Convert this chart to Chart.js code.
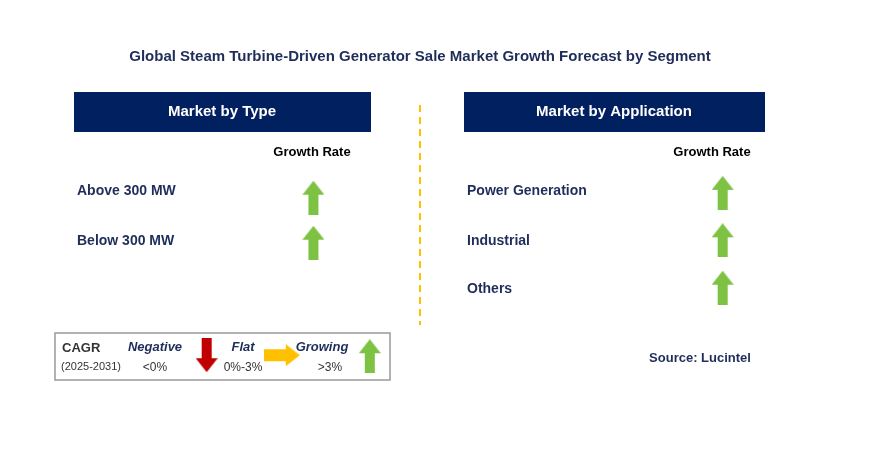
<!DOCTYPE html>
<html><head><meta charset="utf-8">
<script src="https://cdn.jsdelivr.net/npm/chart.js@4/dist/chart.umd.min.js"></script>
<style>html,body{margin:0;padding:0;background:#fff}#wrap{width:872px;height:461px}</style>
</head><body><div id="wrap"><canvas id="c" width="872" height="461"></canvas></div>
<script>
const title = "Global Steam Turbine-Driven Generator Sale Market Growth Forecast by Segment";
const typeCategories = ["Above 300 MW", "Below 300 MW"];
const typeGrowth = ["up", "up"];
const appCategories = ["Power Generation", "Industrial", "Others"];
const appGrowth = ["up", "up", "up"];
const legendItems = [["Negative", "<0%", "down"], ["Flat", "0%-3%", "right"], ["Growing", ">3%", "up"]];

const GREEN = "#7dc242", RED = "#c00000", ORANGE = "#ffc000", NAVY = "#002060", TXT = "#1f2d5a";
function arrowImg(dir, color) {
  const w = dir === "right" ? 36 : 22, h = dir === "right" ? 22 : 34;
  const c = document.createElement("canvas"); c.width = w; c.height = h;
  const g = c.getContext("2d"); g.fillStyle = color; g.beginPath();
  if (dir === "up") { g.moveTo(11,0); g.lineTo(22,14); g.lineTo(16,14); g.lineTo(16,34); g.lineTo(6,34); g.lineTo(6,14); g.lineTo(0,14); }
  else if (dir === "down") { g.moveTo(11,34); g.lineTo(22,20); g.lineTo(16,20); g.lineTo(16,0); g.lineTo(6,0); g.lineTo(6,20); g.lineTo(0,20); }
  else { g.moveTo(36,11); g.lineTo(22,0); g.lineTo(22,5); g.lineTo(0,5); g.lineTo(0,17); g.lineTo(22,17); g.lineTo(22,22); }
  g.closePath(); g.fill(); return c;
}
const colorFor = {up: GREEN, down: RED, right: ORANGE};
const typeRowY = i => 197 + i * 46;
const appRowY = i => 192 + i * 48.5;
const legendX = [204, 280, 369], legendY = [358, 358, 359];

const typePts = typeGrowth.map((d, i) => ({x: 312, y: typeRowY(i)}));
const appPts = appGrowth.map((d, i) => ({x: 726, y: appRowY(i)}));
const legPts = legendItems.map((d, i) => ({x: legendX[i], y: legendY[i]}));

const overlay = {
  id: "overlay",
  beforeDatasetsDraw(chart) {
    const g = chart.ctx; g.save();
    const F = "Arial, 'Liberation Sans', sans-serif";
    g.textBaseline = "middle";
    g.fillStyle = TXT; g.font = "bold 15px " + F; g.textAlign = "center";
    g.fillText(title, 420, 57);
    g.fillStyle = NAVY; g.fillRect(74, 92, 297, 40); g.fillRect(464, 92, 301, 40);
    g.fillStyle = "#fff"; g.font = "bold 15px " + F;
    g.fillText("Market by Type", 222, 112); g.fillText("Market by Application", 614, 112);
    g.strokeStyle = ORANGE; g.lineWidth = 2; g.setLineDash([7, 5]);
    g.beginPath(); g.moveTo(420, 105); g.lineTo(420, 325); g.stroke(); g.setLineDash([]);
    g.fillStyle = "#000"; g.font = "bold 13px " + F;
    g.fillText("Growth Rate", 312, 152); g.fillText("Growth Rate", 712, 152);
    g.fillStyle = TXT; g.font = "bold 14px " + F; g.textAlign = "left";
    typeCategories.forEach((t, i) => g.fillText(t, 77, [191, 241][i]));
    appCategories.forEach((t, i) => g.fillText(t, 467, [191, 241, 289][i]));
    g.strokeStyle = "#999"; g.lineWidth = 1.5; g.strokeRect(55, 333, 335, 47);
    g.fillStyle = "#333"; g.font = "bold 13px " + F; g.fillText("CAGR", 62, 348);
    g.font = "11px " + F; g.fillText("(2025-2031)", 61, 367);
    g.textAlign = "center";
    const lx = [155, 243, 322];
    legendItems.forEach((d, i) => {
      g.fillStyle = TXT; g.font = "bold italic 13px " + F; g.fillText(d[0], lx[i], 347);
      g.font = "12px " + F; g.fillStyle = "#333"; g.fillText(d[1], lx[i] + (i == 2 ? 8 : 0), 368);
    });
    g.fillStyle = TXT; g.font = "bold 13px " + F; g.fillText("Source: Lucintel", 700, 358);
    g.restore();
  }
};

new Chart(document.getElementById("c"), {
  type: "scatter",
  data: { datasets: [
    {data: typePts, pointStyle: typeGrowth.map(d => arrowImg(d, colorFor[d]))},
    {data: appPts, pointStyle: appGrowth.map(d => arrowImg(d, colorFor[d]))},
    {data: legPts, pointStyle: legendItems.map(d => arrowImg(d[2], colorFor[d[2]]))}
  ]},
  options: {
    responsive: false, animation: false, layout: {padding: 0},
    plugins: {legend: {display: false}, tooltip: {enabled: false}},
    scales: {
      x: {type: "linear", min: 0, max: 872, display: false},
      y: {type: "linear", min: 0, max: 461, reverse: true, display: false}
    }
  },
  plugins: [overlay]
});
</script></body></html>
